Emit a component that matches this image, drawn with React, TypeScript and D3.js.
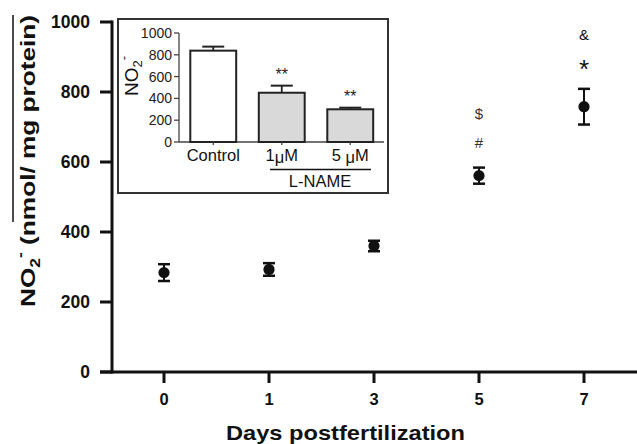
import React from 'react';
import * as d3 from 'd3';

// Main panel: NO2- by day postfertilization
const days = ['0', '1', '3', '5', '7'];
const meanNO2 = [284, 293, 360, 561, 758];
const semNO2 = [24, 18, 15, 23, 51];
const marks: string[][] = [[], [], [], ['#', '$'], ['*', '&']];
const yTicks = [0, 200, 400, 600, 800, 1000];

// Inset: L-NAME treatment
const groups = ['Control', '1µM', '5 µM'];
const groupMeans = [838, 452, 300];
const groupSems = [37, 65, 15];
const groupMarks = ['', '**', '**'];
const insetTicks = [0, 200, 400, 600, 800, 1000];

const W = 637;
const H = 444;
const font = '"Liberation Sans", Arial, Helvetica, sans-serif';

const App: React.FC = () => {
  // main scales
  const x = d3.scalePoint<string>().domain(days).range([164, 584]);
  const y = d3.scaleLinear().domain([0, 1000]).range([372, 22]);

  // inset scales
  const xi = d3
    .scaleBand<string>()
    .domain(groups)
    .range([179, 384.5])
    .paddingInner(0.33)
    .paddingOuter(0.165);
  const yi = d3.scaleLinear().domain([0, 1000]).range([142, 33]);

  const axisX0 = 112;
  const axisY0 = y(0);

  return (
    <svg width={W} height={H} style={{ position: 'absolute', left: 0, top: 0, background: '#fff' }} fontFamily={font}>
      <rect width={W} height={H} fill="#fff" />

      {/* main y axis */}
      <line x1={axisX0} x2={axisX0} y1={y(1000) - 1.5} y2={axisY0 + 1.5} stroke="#111" strokeWidth={3} />
      {yTicks.map(t => (
        <g key={t}>
          <line x1={100} x2={axisX0} y1={y(t)} y2={y(t)} stroke="#111" strokeWidth={3} />
          <text x={90} y={y(t)} dy="0.36em" textAnchor="end" fontSize={17.5} fontWeight="bold" fill="#111">
            {t}
          </text>
        </g>
      ))}

      {/* main x axis */}
      <line x1={100} x2={W} y1={axisY0} y2={axisY0} stroke="#111" strokeWidth={3} />
      {days.map(d => (
        <g key={d}>
          <line x1={x(d)!} x2={x(d)!} y1={axisY0} y2={axisY0 + 11} stroke="#111" strokeWidth={3} />
          <text x={x(d)!} y={405} textAnchor="middle" fontSize={16.5} fontWeight="bold" fill="#111">
            {d}
          </text>
        </g>
      ))}

      <text x={345.5} y={440} textAnchor="middle" fontSize={21} fontWeight="bold" fill="#111" textLength={239} lengthAdjust="spacingAndGlyphs">
        Days postfertilization
      </text>

      {/* main y title */}
      <line x1={13} x2={13} y1={15} y2={222} stroke="#111" strokeWidth={1.5} />
      <text transform="translate(35,161) rotate(-90)" textAnchor="middle" fontSize={21} fontWeight="bold" fill="#111" textLength={292} lengthAdjust="spacingAndGlyphs">
        NO<tspan fontSize={14} dy={5}>2</tspan>
        <tspan fontSize={14} dy={-15}>-</tspan>
        <tspan dy={10}> (nmol/ mg protein)</tspan>
      </text>

      {/* data points */}
      {days.map((d, i) => {
        const cx = x(d)!;
        const top = y(meanNO2[i] + semNO2[i]);
        const bot = y(meanNO2[i] - semNO2[i]);
        return (
          <g key={d}>
            <line x1={cx} x2={cx} y1={top} y2={bot} stroke="#111" strokeWidth={2} />
            <line x1={cx - 6} x2={cx + 6} y1={top} y2={top} stroke="#111" strokeWidth={2.5} />
            <line x1={cx - 6} x2={cx + 6} y1={bot} y2={bot} stroke="#111" strokeWidth={2.5} />
            <circle cx={cx} cy={y(meanNO2[i])} r={5.6} fill="#111" />
            {marks[i].map((m, j) => {
              const star = m === '*';
              const fs = star ? 26 : 15;
              const centre = top - 25 - j * 29;
              return (
                <text key={m} x={cx} y={centre + (star ? 0.56 : 0.36) * fs} textAnchor="middle" fontSize={fs} fill={star || m === '&' ? '#111' : '#333'}>
                  {m}
                </text>
              );
            })}
          </g>
        );
      })}

      {/* inset */}
      <rect x={118} y={19} width={270} height={174} fill="#fff" stroke="#333" strokeWidth={2} />
      <line x1={179} x2={179} y1={yi(1000)} y2={yi(0)} stroke="#444" strokeWidth={1.3} />
      {insetTicks.map(t => (
        <g key={t}>
          <line x1={174} x2={179} y1={yi(t)} y2={yi(t)} stroke="#444" strokeWidth={1.3} />
          <text x={172} y={yi(t)} dy="0.36em" textAnchor="end" fontSize={14} fill="#222">
            {t}
          </text>
        </g>
      ))}
      <line x1={179} x2={384} y1={yi(0)} y2={yi(0)} stroke="#444" strokeWidth={1.3} />

      <text transform="translate(138,76) rotate(-90)" textAnchor="middle" fontSize={19} fill="#111">
        NO<tspan fontSize={13} dy={4}>2</tspan>
        <tspan fontSize={13} dy={-14}>-</tspan>
      </text>

      {groups.map((g, i) => {
        const bx = xi(g)!;
        const bw = xi.bandwidth();
        const cx = bx + bw / 2;
        const top = yi(groupMeans[i]);
        const capY = yi(groupMeans[i] + groupSems[i]);
        return (
          <g key={g}>
            <line x1={cx} x2={cx} y1={top} y2={capY} stroke="#222" strokeWidth={1.8} />
            <line x1={cx - 11} x2={cx + 11} y1={capY} y2={capY} stroke="#222" strokeWidth={2} />
            <rect x={bx} y={top} width={bw} height={yi(0) - top} fill={i === 0 ? '#fff' : '#d9d9d9'} stroke="#222" strokeWidth={2} />
            <line x1={cx} x2={cx} y1={yi(0)} y2={yi(0) + 3} stroke="#444" strokeWidth={1.3} />
            {groupMarks[i] && (
              <text x={cx} y={capY - 15 + 0.56 * 16} textAnchor="middle" fontSize={16} fill="#222">
                {groupMarks[i]}
              </text>
            )}
          </g>
        );
      })}

      <text x={xi('Control')! + xi.bandwidth() / 2} y={161} textAnchor="middle" fontSize={16.5} fill="#111">
        Control
      </text>
      <text x={xi('1µM')! + xi.bandwidth() / 2} y={161} textAnchor="middle" fontSize={16.5} fill="#111">
        1<tspan dy={2}>μ</tspan><tspan dy={-2}>M</tspan>
      </text>
      <text x={xi('5 µM')! + xi.bandwidth() / 2} y={161} textAnchor="middle" fontSize={16.5} fill="#111">
        5 <tspan dy={2}>μ</tspan><tspan dy={-2}>M</tspan>
      </text>
      <line x1={270} x2={371} y1={169.5} y2={169.5} stroke="#111" strokeWidth={1.5} />
      <text x={320} y={187} textAnchor="middle" fontSize={16.5} fill="#111">
        L-NAME
      </text>
    </svg>
  );
};

export default App;
